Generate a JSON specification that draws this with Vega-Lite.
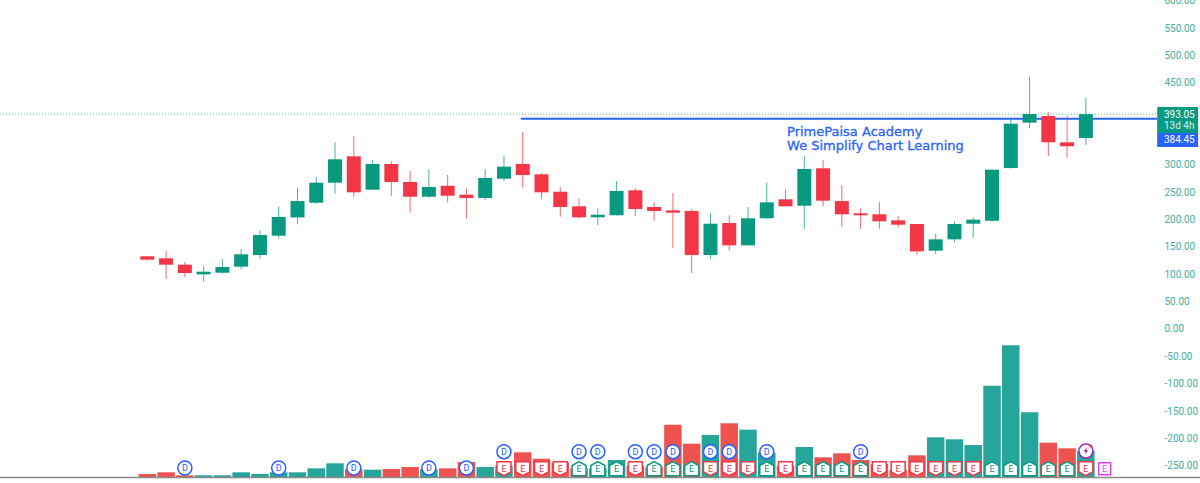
{
  "$schema": "https://vega.github.io/schema/vega-lite/v6.json",
  "width": 1200,
  "height": 483,
  "autosize": "none",
  "padding": 0,
  "background": "white",
  "config": {"view": {"stroke": null}},
  "datasets": {
    "candles": [
      {"i":0,"open":133,"high":133,"low":125,"close":126.8,"volume":3.5},
      {"i":1,"open":129.3,"high":142.7,"low":91.5,"close":117.6,"volume":5.2},
      {"i":2,"open":117.6,"high":122.6,"low":95,"close":102.4,"volume":2.2},
      {"i":3,"open":100,"high":115,"low":86,"close":104.8,"volume":2.2},
      {"i":4,"open":103,"high":128,"low":101,"close":113.4,"volume":2.2},
      {"i":5,"open":114,"high":145.8,"low":109,"close":136.6,"volume":5.2},
      {"i":6,"open":135.4,"high":181,"low":128.6,"close":172,"volume":3.5},
      {"i":7,"open":170.7,"high":224.4,"low":165.9,"close":204.9,"volume":5.2},
      {"i":8,"open":204,"high":258.5,"low":191.5,"close":234,"volume":5.2},
      {"i":9,"open":231,"high":278,"low":229,"close":267.6,"volume":9.2},
      {"i":10,"open":267.6,"high":341.5,"low":247.5,"close":310.4,"volume":14.2},
      {"i":11,"open":315.9,"high":353,"low":240.9,"close":250,"volume":8.2},
      {"i":12,"open":254.8,"high":308.6,"low":254.8,"close":301.8,"volume":7.8},
      {"i":13,"open":301.8,"high":306.7,"low":243.8,"close":268.9,"volume":8.5},
      {"i":14,"open":268.9,"high":289,"low":212.7,"close":242,"volume":10.5},
      {"i":15,"open":242,"high":292,"low":240,"close":259.7,"volume":8.2},
      {"i":16,"open":262,"high":281.7,"low":231,"close":243.8,"volume":9.2},
      {"i":17,"open":245.7,"high":257,"low":201.8,"close":239.6,"volume":15.5},
      {"i":18,"open":239.6,"high":292.7,"low":236,"close":276.2,"volume":10.5},
      {"i":19,"open":274.9,"high":317,"low":271.3,"close":296.9,"volume":11.5},
      {"i":20,"open":301.8,"high":360.3,"low":258.5,"close":281.7,"volume":25.2},
      {"i":21,"open":283,"high":285.3,"low":238.3,"close":250,"volume":18.8},
      {"i":22,"open":251.1,"high":259.7,"low":205.4,"close":223.2,"volume":14.8},
      {"i":23,"open":224.4,"high":238.3,"low":201.8,"close":204.3,"volume":9.2},
      {"i":24,"open":204.3,"high":220.8,"low":190.2,"close":209,"volume":9.2},
      {"i":25,"open":208,"high":270.7,"low":208,"close":252.4,"volume":17.5},
      {"i":26,"open":253.7,"high":257.3,"low":206.7,"close":219.5,"volume":11.5},
      {"i":27,"open":223.2,"high":231.7,"low":198.1,"close":215.8,"volume":10.2},
      {"i":28,"open":217,"high":248.8,"low":148.2,"close":212.7,"volume":52.8},
      {"i":29,"open":215.8,"high":219.5,"low":102.4,"close":135.4,"volume":33.8},
      {"i":30,"open":135.4,"high":211.6,"low":128,"close":192.6,"volume":42.5},
      {"i":31,"open":193.9,"high":208,"low":143.2,"close":153,"volume":54.2},
      {"i":32,"open":153,"high":223.2,"low":153,"close":202.5,"volume":47.8},
      {"i":33,"open":202.5,"high":267.6,"low":201.2,"close":231.7,"volume":24.8},
      {"i":34,"open":237.2,"high":254.8,"low":224.4,"close":224.4,"volume":11.5},
      {"i":35,"open":225.5,"high":315.9,"low":183.5,"close":292.7,"volume":30.5},
      {"i":36,"open":293.9,"high":309,"low":224.4,"close":234.7,"volume":20.2},
      {"i":37,"open":234,"high":263.4,"low":186.6,"close":209.8,"volume":24.2},
      {"i":38,"open":211.6,"high":220.8,"low":182.9,"close":208,"volume":17.5},
      {"i":39,"open":209.8,"high":232.3,"low":183.5,"close":197,"volume":13.5},
      {"i":40,"open":198.8,"high":206.7,"low":185.3,"close":190.8,"volume":7.5},
      {"i":41,"open":192,"high":192,"low":136,"close":142,"volume":22.2},
      {"i":42,"open":143.2,"high":173.8,"low":137.2,"close":164,"volume":40.2},
      {"i":43,"open":164,"high":197,"low":158.6,"close":192,"volume":38.2},
      {"i":44,"open":192.6,"high":204.3,"low":167,"close":200,"volume":32.5},
      {"i":45,"open":198,"high":292,"low":196.3,"close":291.4,"volume":91.8},
      {"i":46,"open":294.5,"high":384.7,"low":293.2,"close":375.5,"volume":132.2},
      {"i":47,"open":377.4,"high":461,"low":367,"close":393.3,"volume":65.2},
      {"i":48,"open":389.6,"high":396.4,"low":316.4,"close":341.5,"volume":34.8},
      {"i":49,"open":341.5,"high":391,"low":314,"close":334.2,"volume":29.2},
      {"i":50,"open":349.4,"high":422.5,"low":336.6,"close":393,"volume":26.8}
    ],
    "earnings": [
      {"i":19,"side":"down"},{"i":20,"side":"down"},{"i":21,"side":"down"},{"i":22,"side":"down"},
      {"i":23,"side":"up"},{"i":24,"side":"up"},{"i":25,"side":"up"},{"i":26,"side":"down"},
      {"i":27,"side":"up"},{"i":28,"side":"up"},{"i":29,"side":"up"},{"i":30,"side":"down"},
      {"i":31,"side":"down"},{"i":32,"side":"down"},{"i":33,"side":"up"},{"i":34,"side":"down"},
      {"i":35,"side":"up"},{"i":36,"side":"up"},{"i":37,"side":"up"},{"i":38,"side":"up"},
      {"i":39,"side":"down"},{"i":40,"side":"down"},{"i":41,"side":"down"},{"i":42,"side":"down"},
      {"i":43,"side":"down"},{"i":44,"side":"down"},{"i":45,"side":"up"},{"i":46,"side":"up"},
      {"i":47,"side":"up"},{"i":48,"side":"up"},{"i":49,"side":"up"},{"i":50,"side":"down"}
    ],
    "dividends": [
      {"i":2},{"i":7},{"i":11},{"i":15},{"i":17},{"i":19},{"i":23},{"i":24},
      {"i":26},{"i":27},{"i":28},{"i":30},{"i":31},{"i":33},{"i":38}
    ]
  },
  "encoding": {
    "x": {
      "field": "i",
      "type": "quantitative",
      "scale": {"domain": [-7.848, 56.08], "nice": false, "zero": false, "padding": 0},
      "axis": null
    }
  },
  "layer": [
    {
      "layer": [
        {
          "data": {"values": [{"level": 393.05, "from": -7.848, "to": 53.8}]},
          "mark": {"type": "rule", "color": "#26a69a", "strokeWidth": 1, "strokeDash": [1, 2], "opacity": 0.8},
          "encoding": {
            "x": {"field": "from", "type": "quantitative"},
            "x2": {"field": "to"},
            "y": {
              "field": "level",
              "type": "quantitative",
              "scale": {"domain": [-281.7, 601.8], "nice": false, "zero": false},
              "axis": {
                "orient": "right",
                "offset": -36,
                "title": null,
                "values": [600,550,500,450,300,250,200,150,100,50,0,-50,-100,-150,-200,-250],
                "tickCount": 40,
                "format": ".2f",
                "labelExpr": "replace(datum.label, '−', '-')",
                "domain": false,
                "ticks": false,
                "grid": false,
                "labelPadding": 0,
                "labelAlign": "left",
                "labelBound": false,
                "labelFlush": false,
                "labelOverlap": false,
                "labelFont": "Roboto",
                "labelFontSize": 10,
                "labelColor": "#3fae9f"
              }
            }
          }
        },
        {
          "data": {"values": [{"level": 384.45, "from": 19.9, "to": 53.8}]},
          "mark": {"type": "rule", "color": "#2962ff", "strokeWidth": 2},
          "encoding": {
            "x": {"field": "from", "type": "quantitative"},
            "x2": {"field": "to"},
            "y": {"field": "level", "type": "quantitative"}
          }
        },
        {
          "data": {"name": "candles"},
          "mark": {"type": "rule", "strokeWidth": 1, "opacity": 0.75},
          "encoding": {
            "y": {"field": "low", "type": "quantitative"},
            "y2": {"field": "high"},
            "color": {"condition": {"test": "datum.close >= datum.open", "value": "#089981"}, "value": "#f23645"}
          }
        },
        {
          "data": {"name": "candles"},
          "mark": {"type": "bar", "orient": "vertical", "size": 14},
          "encoding": {
            "y": {"field": "open", "type": "quantitative"},
            "y2": {"field": "close"},
            "color": {"condition": {"test": "datum.close >= datum.open", "value": "#089981"}, "value": "#f23645"}
          }
        },
        {
          "data": {"values": [
            {"from": 53.8, "to": 55.98, "top": 406, "bottom": 358.5, "tone": "price"},
            {"from": 53.8, "to": 55.98, "top": 358.5, "bottom": 333, "tone": "line"}
          ]},
          "mark": {"type": "rect"},
          "encoding": {
            "x": {"field": "from", "type": "quantitative"},
            "x2": {"field": "to"},
            "y": {"field": "top", "type": "quantitative"},
            "y2": {"field": "bottom"},
            "color": {"condition": {"test": "datum.tone === 'price'", "value": "#089981"}, "value": "#2962ff"}
          }
        },
        {
          "data": {"values": [
            {"i": 54.16, "price": 391.4, "label": "393.05", "tone": "#ffffff"},
            {"i": 54.16, "price": 371.9, "label": "13d 4h", "tone": "#d5efe9"},
            {"i": 54.16, "price": 345.7, "label": "384.45", "tone": "#ffffff"}
          ]},
          "mark": {"type": "text", "align": "left", "baseline": "middle", "font": "Roboto", "fontSize": 10},
          "encoding": {
            "y": {"field": "price", "type": "quantitative"},
            "text": {"field": "label"},
            "color": {"field": "tone", "type": "nominal", "scale": null}
          }
        },
        {
          "data": {"values": [
            {"i": 34.08, "price": 360, "label": "PrimePaisa Academy"},
            {"i": 34.08, "price": 334.5, "label": "We Simplify Chart Learning"}
          ]},
          "mark": {"type": "text", "align": "left", "baseline": "middle", "font": "DejaVu Sans", "fontSize": 13, "color": "#2962ff", "stroke": "#2962ff", "strokeWidth": 0.3},
          "encoding": {
            "y": {"field": "price", "type": "quantitative"},
            "text": {"field": "label"}
          }
        }
      ]
    },
    {
      "layer": [
        {
          "data": {"name": "candles"},
          "mark": {"type": "bar", "orient": "vertical", "size": 17.5},
          "encoding": {
            "y": {
              "field": "volume",
              "type": "quantitative",
              "scale": {"domain": [-5.5, 477.5], "nice": false, "zero": false},
              "axis": null
            },
            "color": {"condition": {"test": "datum.close >= datum.open", "value": "#26a69a"}, "value": "#ef5350"}
          }
        },
        {
          "data": {"values": [{"base": 0, "from": -7.848, "to": 56.08}]},
          "mark": {"type": "rule", "color": "#8a8a8a", "strokeWidth": 1.5},
          "encoding": {
            "x": {"field": "from", "type": "quantitative"},
            "x2": {"field": "to"},
            "y": {"field": "base", "type": "quantitative", "axis": null}
          }
        },
        {
          "data": {"name": "earnings"},
          "mark": {"type": "point", "filled": true, "size": 196, "fill": "white", "strokeWidth": 1.5, "opacity": 1},
          "encoding": {
            "y": {"datum": 8.8, "type": "quantitative", "axis": null},
            "shape": {
              "field": "side",
              "type": "nominal",
              "legend": null,
              "scale": {
                "domain": ["up", "down"],
                "range": ["M0,-1L1,-0.45L1,1L-1,1L-1,-0.45Z", "M-1,-1L1,-1L1,0.45L0,1L-1,0.45Z"]
              }
            },
            "stroke": {"condition": {"test": "datum.side === 'up'", "value": "#089981"}, "value": "#f23645"}
          }
        },
        {
          "data": {"name": "earnings"},
          "mark": {"type": "text", "text": "E", "font": "Roboto", "fontSize": 9, "baseline": "middle"},
          "encoding": {
            "y": {"datum": 8.8, "type": "quantitative", "axis": null},
            "color": {"condition": {"test": "datum.side === 'up'", "value": "#089981"}, "value": "#f23645"}
          }
        },
        {
          "data": {"values": [{"i": 51}]},
          "mark": {"type": "point", "shape": "square", "filled": true, "size": 144, "fill": "white", "stroke": "#e040fb", "strokeWidth": 1.5, "opacity": 1},
          "encoding": {"y": {"datum": 8.8, "type": "quantitative", "axis": null}}
        },
        {
          "data": {"values": [{"i": 51}]},
          "mark": {"type": "text", "text": "E", "font": "Roboto", "fontSize": 9, "baseline": "middle", "color": "#e040fb"},
          "encoding": {"y": {"datum": 8.8, "type": "quantitative", "axis": null}}
        },
        {
          "data": {"name": "dividends"},
          "transform": [{"filter": "datum.i < 19"}],
          "mark": {"type": "point", "shape": "circle", "filled": true, "size": 196, "fill": "white", "stroke": "#2962ff", "strokeWidth": 1.5, "opacity": 1},
          "encoding": {"y": {"datum": 9.5, "type": "quantitative", "axis": null}}
        },
        {
          "data": {"name": "dividends"},
          "transform": [{"filter": "datum.i < 19"}],
          "mark": {"type": "text", "text": "D", "font": "Roboto", "fontSize": 9, "baseline": "middle", "color": "#2962ff"},
          "encoding": {"y": {"datum": 9.5, "type": "quantitative", "axis": null}}
        },
        {
          "data": {"name": "dividends"},
          "transform": [{"filter": "datum.i >= 19"}],
          "mark": {"type": "point", "shape": "circle", "filled": true, "size": 196, "fill": "white", "stroke": "#2962ff", "strokeWidth": 1.5, "opacity": 1},
          "encoding": {"y": {"datum": 25.8, "type": "quantitative", "axis": null}}
        },
        {
          "data": {"name": "dividends"},
          "transform": [{"filter": "datum.i >= 19"}],
          "mark": {"type": "text", "text": "D", "font": "Roboto", "fontSize": 9, "baseline": "middle", "color": "#2962ff"},
          "encoding": {"y": {"datum": 25.8, "type": "quantitative", "axis": null}}
        },
        {
          "data": {"values": [{"i": 50}]},
          "mark": {"type": "point", "shape": "circle", "filled": true, "size": 196, "fill": "white", "stroke": "#9c27b0", "strokeWidth": 1.5, "opacity": 1},
          "encoding": {"y": {"datum": 26.5, "type": "quantitative", "axis": null}}
        },
        {
          "data": {"values": [{"i": 50}]},
          "mark": {"type": "point", "shape": "M0.3,-1L-0.6,0.15L-0.05,0.15L-0.3,1L0.6,-0.2L0.05,-0.2Z", "filled": true, "size": 64, "color": "#9c27b0", "opacity": 1},
          "encoding": {"y": {"datum": 26.5, "type": "quantitative", "axis": null}}
        },
        {
          "data": {"values": [{"i": 50}]},
          "mark": {"type": "point", "shape": "circle", "filled": true, "size": 10, "color": "#f23645", "opacity": 1, "xOffset": 5, "yOffset": -5},
          "encoding": {"y": {"datum": 26.5, "type": "quantitative", "axis": null}}
        }
      ]
    }
  ],
  "resolve": {"scale": {"y": "independent"}}
}
